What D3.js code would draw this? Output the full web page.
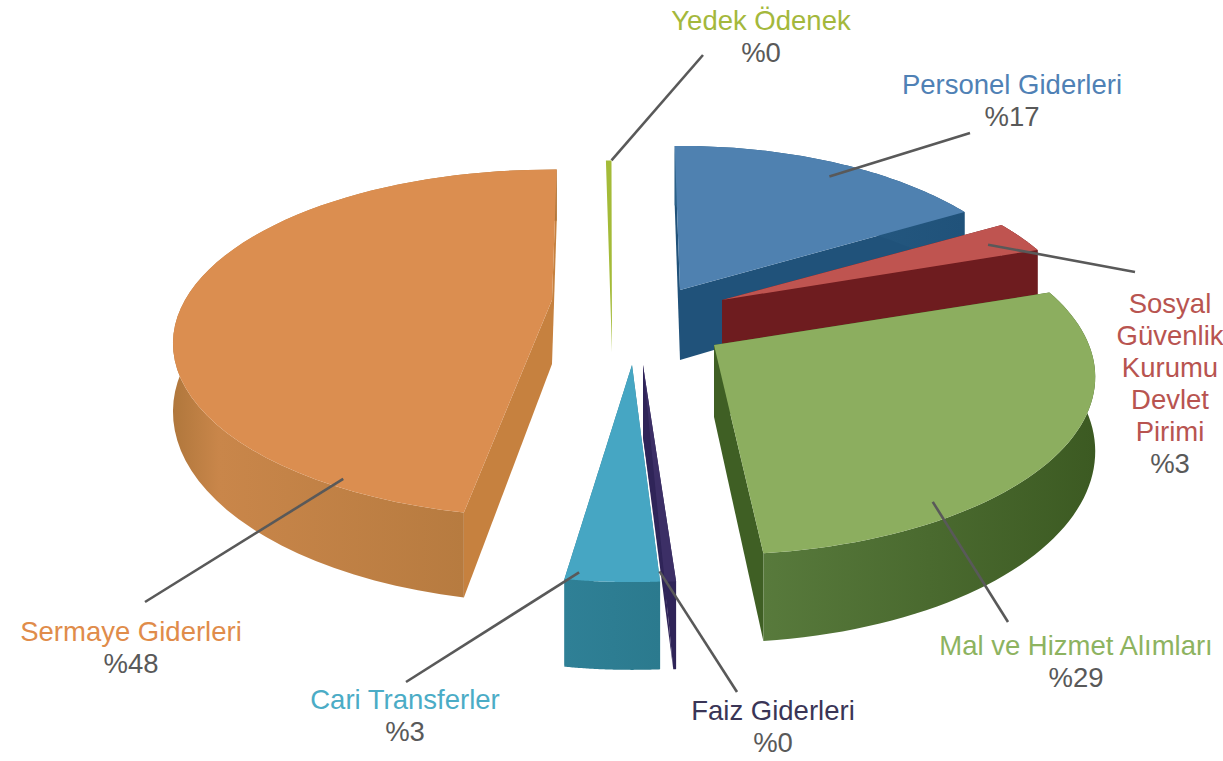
<!DOCTYPE html>
<html><head><meta charset="utf-8">
<script src="https://cdn.jsdelivr.net/npm/d3@7"></script>
<style>html,body{margin:0;background:#fff}svg{display:block}text{font-family:"Liberation Sans",Arial,sans-serif;font-size:27.5px}</style>
</head><body><svg id="c" width="1223" height="761"></svg>
<script>
// Data, clockwise from the top
const categories = ["Personel Giderleri","Sosyal Güvenlik Kurumu Devlet Pirimi","Mal ve Hizmet Alımları","Faiz Giderleri","Cari Transferler","Sermaye Giderleri","Yedek Ödenek"];
const values = [17, 3.1, 28.6, 0.4, 3.4, 47.5, 0.3];
const labelLines = [["Personel Giderleri"],["Sosyal","Güvenlik","Kurumu","Devlet","Pirimi"],["Mal ve Hizmet Alımları"],["Faiz Giderleri"],["Cari Transferler"],["Sermaye Giderleri"],["Yedek Ödenek"]];
const topColors = ["#4f81b0","#bf5450","#8cae5f","#3c2f66","#46a6c3","#db8e50","#a4bb38"];
const sideColors = ["#20527a","#6e1c1f","#3f5f24","#2f2458","#2d7d92","#c6813f","#a4bb38"];
const wallFrom = ["#2a6088","#6e1c1f","#587a3c","#2f2458","#2f8096","#c9864a","#a4bb38"];
const wallTo = ["#20527a","#6e1c1f","#3c5a22","#2f2458","#2b7a8e","#b0773c","#a4bb38"];
const textColors = ["#4f81b5","#b85450","#8db360","#3a3556","#4bacc6","#e08c4a","#a4b83c"];

// Layout: exploded apex, radii, perspective, thickness for each slice
const geo = [
  {ax:680,ay:290,rx:358,ry:170,p:.18,d:70,rot:0,taper:1},
  {ax:722,ay:300,rx:355,ry:165,p:.20,d:60,rot:0,taper:1},
  {ax:714,ay:345,rx:375,ry:172,p:.18,d:72,rot:0,taper:1},
  {ax:643,ay:365,rx:370,ry:178,p:.18,d:72,rot:2,taper:.25},
  {ax:632,ay:365,rx:370,ry:178,p:.18,d:72,rot:1.2,taper:1},
  {ax:552,ay:300,rx:367,ry:163,p:.25,d:64,rot:3,taper:1},
  {ax:612,ay:352,rx:350,ry:226,p:.18,d:0,rot:.9,taper:1}
];
const labelPos = [[1012,94],[1170,313],[1076,655],[773,720],[405,709],[131,641],[761,30]];
const leaderAt = [[32,.895],[65.9,.88],[147.4,.93],[177.8,.96],[187,.97],[207.4,.97],[359.9,1]];
const leaderEnd = [[970,133],[1135,272],[1008,622],[737,692],[406,682],[145,602],[703,55]];
const drawOrder = [6,0,1,5,2,3,4];
const lineStep = 32;

const rad = Math.PI/180;
const arcs = d3.pie().sort(null).value(d=>d).startAngle(-1*rad).endAngle(359*rad)(values);
const svg = d3.select("#c");
const defs = svg.append("defs");
const path = d3.line().x(d=>d[0]).y(d=>d[1]);

function project(g,t,r,z){
  const X=Math.sin(t)*r, Y=-Math.cos(t)*r, w=1-g.p*Y;
  return [g.ax+g.rx*X/w, g.ay+g.ry*Y/w+(z?g.d/w:0)];
}
values.forEach((v,i)=>{
  const lg=defs.append("linearGradient").attr("id","w"+i).attr("x1",0).attr("x2",1).attr("y1",0).attr("y2",0);
  lg.append("stop").attr("offset",0).attr("stop-color",i===5?wallTo[i]:wallFrom[i]);
  if(i===5) lg.append("stop").attr("offset",.12).attr("stop-color",wallFrom[i]);
  lg.append("stop").attr("offset",1).attr("stop-color",wallTo[i]);
});
drawOrder.forEach(i=>{
  const g=geo[i], a=arcs[i], rot=g.rot*rad, span=a.endAngle-a.startAngle;
  const ts=d3.range(0,61).map(k=>a.startAngle+rot+span*k/60);
  const top=ts.map(t=>project(g,t,1,false));
  const bot=ts.map(t=>project(g,a.startAngle+rot+(t-a.startAngle-rot)*g.taper,1,true));
  const A=project(g,0,0,false), B=project(g,0,0,true);
  const G=svg.append("g");
  if(g.d>0){
    G.append("path").attr("d",path([A,top[0],bot[0],B])+"Z").attr("fill",sideColors[i]);
    G.append("path").attr("d",path([A,top[60],bot[60],B])+"Z").attr("fill",sideColors[i]);
    G.append("path").attr("d",path(top.concat(bot.slice().reverse()))+"Z").attr("fill","url(#w"+i+")");
  }
  G.append("path").attr("d",path([A].concat(top))+"Z").attr("fill",topColors[i]);
});
values.forEach((v,i)=>{
  const s=project(geo[i],leaderAt[i][0]*rad,leaderAt[i][1],false);
  svg.append("path").attr("d",path([s,leaderEnd[i]])).attr("stroke","#595959").attr("stroke-width",2.6).attr("fill","none");
});
values.forEach((v,i)=>{
  const [x,y]=labelPos[i];
  const t=svg.append("text").attr("text-anchor","middle");
  labelLines[i].forEach((l,k)=>t.append("tspan").attr("x",x).attr("y",y+k*lineStep).attr("fill",textColors[i]).text(l));
  t.append("tspan").attr("x",x).attr("y",y+labelLines[i].length*lineStep).attr("fill","#595959").text("%"+Math.round(v));
});
</script></body></html>
